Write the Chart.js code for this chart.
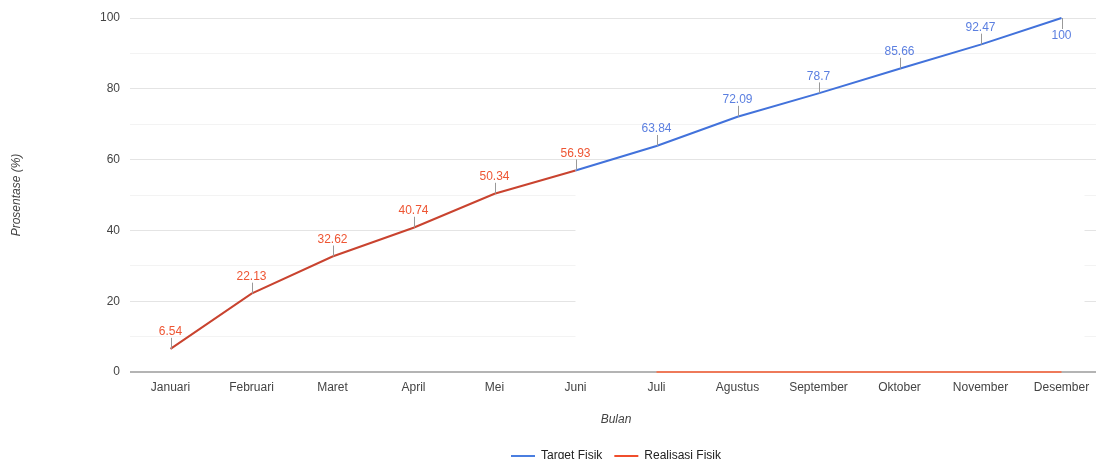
<!DOCTYPE html>
<html>
<head>
<meta charset="utf-8">
<script src="https://cdn.jsdelivr.net/npm/chart.js@4.4.1/dist/chart.umd.min.js"></script>
<style>
html,body{margin:0;padding:0;background:#fff;overflow:hidden;width:1096px;height:459px;}
#wrap{position:relative;width:1104px;height:472px;}
</style>
</head>
<body>
<div id="wrap"><canvas id="c" width="1104" height="472"></canvas></div>
<script>
const categories = ['Januari','Februari','Maret','April','Mei','Juni','Juli','Agustus','September','Oktober','November','Desember'];
const targetFisik = [null, null, null, null, null, 56.93, 63.84, 72.09, 78.7, 85.66, 92.47, 100];
const realisasiFisik = [6.54, 22.13, 32.62, 40.74, 50.34, 56.93, 0, 0, 0, 0, 0, 0];
const targetLabelFrom = 6;   // annotations shown for target from Juli
const realisasiLabelTo = 5;  // annotations shown for realisasi until Juni
const yTicks = [0, 20, 40, 60, 80, 100];

const BLUE = '#4272db', RED = '#c9432f';
const BLUE_TXT = '#5b7fe0', RED_TXT = '#ee5533';
const BLUE_LEG = '#4a7ee0', RED_LEG = '#f04e2c';
const RED_ZERO = '#ee7a5a';

const maskPlugin = {
  id: 'mask',
  beforeDatasetsDraw(chart) {
    const {ctx} = chart;
    const x = chart.scales.x, y = chart.scales.y;
    const x0 = x.getPixelForValue(5);
    const x1 = x.getPixelForValue(11) + 23;
    const y0 = y.getPixelForValue(56);
    const y1 = y.getPixelForValue(0) - 1.5;
    ctx.save();
    ctx.fillStyle = '#ffffff';
    ctx.fillRect(x0, y0, x1 - x0, y1 - y0);
    ctx.restore();
  }
};

const legendCenterPlugin = {
  id: 'legendCenter',
  afterLayout(chart) {
    const l = chart.legend;
    if (!l) return;
    const ca = chart.chartArea;
    const w = l.right - l.left;
    const shift = (ca.left + ca.right) / 2 - (l.left + l.right) / 2;
    l.left += shift; l.right += shift;
  }
};

const annotPlugin = {
  id: 'annot',
  afterDatasetsDraw(chart) {
    const {ctx} = chart;
    ctx.save();
    ctx.font = '12px "Liberation Sans", Arial, sans-serif';
    ctx.textAlign = 'center';
    chart.data.datasets.forEach((ds, di) => {
      const meta = chart.getDatasetMeta(di);
      meta.data.forEach((pt, i) => {
        const v = ds.data[i];
        if (v === null || v === undefined) return;
        if (di === 0 && i < targetLabelFrom) return;
        if (di === 1 && i > realisasiLabelTo) return;
        const down = pt.y - chart.chartArea.top < 20;
        ctx.strokeStyle = '#999999';
        ctx.lineWidth = 1;
        ctx.beginPath();
        const sx = Math.round(pt.x) + 0.5;
        if (down) {
          ctx.moveTo(sx, pt.y); ctx.lineTo(sx, pt.y + 11);
        } else {
          ctx.moveTo(sx, pt.y); ctx.lineTo(sx, pt.y - 11);
        }
        ctx.stroke();
        ctx.fillStyle = ds._txt;
        ctx.textBaseline = 'middle';
        const ty = down ? pt.y + 18 : pt.y - 17;
        ctx.fillText(String(v), pt.x, ty);
      });
    });
    ctx.restore();
  }
};

new Chart(document.getElementById('c'), {
  type: 'line',
  data: {
    labels: categories,
    datasets: [
      {label: 'Target Fisik', data: targetFisik, borderColor: BLUE, backgroundColor: BLUE,
       borderWidth: 2, pointRadius: 0, tension: 0, spanGaps: false, clip: false, _txt: BLUE_TXT, _leg: BLUE_LEG},
      {label: 'Realisasi Fisik', data: realisasiFisik, borderColor: RED, backgroundColor: RED,
       borderWidth: 2, pointRadius: 0, tension: 0, clip: false, _txt: RED_TXT, _leg: RED_LEG,
       segment: {borderColor: c => (c.p0DataIndex >= 6 ? RED_ZERO : (c.p0DataIndex === 5 ? 'rgba(0,0,0,0)' : RED))}}
    ]
  },
  options: {
    responsive: false,
    animation: false,
    layout: {padding: {top: 18, left: 0, right: 2, bottom: 0}},
    plugins: {
      tooltip: {enabled: false},
      legend: {
        position: 'bottom',
        labels: {
          boxWidth: 24, boxHeight: 2, padding: 12,
          color: '#222222',
          font: {family: '"Liberation Sans", Arial, sans-serif', size: 12},
          generateLabels(chart) {
            return chart.data.datasets.map((ds, i) => ({
              text: ds.label, fillStyle: ds._leg, strokeStyle: ds._leg, lineWidth: 0,
              hidden: false, datasetIndex: i, fontColor: '#222222'
            }));
          }
        }
      }
    },
    scales: {
      x: {
        offset: true,
        grid: {display: false, offset: true},
        border: {display: false},
        ticks: {color: '#444444', padding: 0, maxRotation: 0, autoSkip: false,
                font: {family: '"Liberation Sans", Arial, sans-serif', size: 12}},
        title: {display: true, text: 'Bulan', color: '#444444', padding: {top: 0, bottom: 11},
                font: {family: '"Liberation Sans", Arial, sans-serif', size: 12, style: 'italic'}},
        afterFit(s) { s.height = 66; }
      },
      y: {
        min: 0, max: 100,
        border: {display: false},
        grid: {
          drawTicks: false,
          color: c => (c.tick.value === 0 ? '#b4b4b4' : (c.tick.value % 20 === 0 ? '#e4e4e4' : '#f3f3f3')),
          lineWidth: c => (c.tick.value === 0 ? 2 : 1)
        },
        ticks: {
          stepSize: 10, padding: 10, color: '#444444',
          font: {family: '"Liberation Sans", Arial, sans-serif', size: 12},
          callback: v => (yTicks.includes(v) ? String(v) : '')
        },
        title: {display: true, text: 'Prosentase (%)', color: '#444444', padding: {top: 9, bottom: 0},
                font: {family: '"Liberation Sans", Arial, sans-serif', size: 12, style: 'italic'}},
        afterFit(s) { s.width = 130; }
      }
    }
  },
  plugins: [maskPlugin, legendCenterPlugin, annotPlugin]
});
</script>
</body>
</html>
